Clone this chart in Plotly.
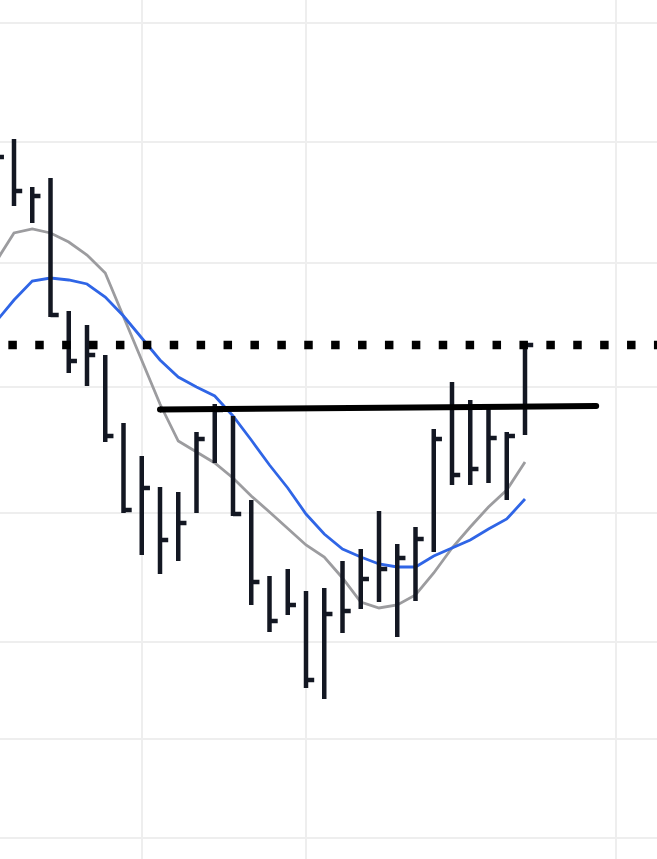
import plotly.graph_objects as go

# ---- data (bar index, OHLC-style values) ----
bar_index = list(range(-1, 29))
highs = [88.0, 86.1, 81.3, 82.2, 68.9, 67.5, 64.5, 57.7, 54.4, 51.3, 50.8, 56.8, 59.6, 58.4, 50.0,
         42.4, 43.1, 40.9, 41.2, 43.9, 45.1, 48.9, 45.6, 47.3, 57.1, 61.8, 60.0, 59.1, 56.8, 65.7]
lows = [83.0, 79.4, 77.7, 68.3, 62.7, 61.4, 55.8, 48.7, 44.5, 42.6, 43.9, 48.7, 53.7, 48.4, 39.5,
        36.8, 38.5, 31.2, 30.1, 36.7, 39.1, 39.8, 36.3, 39.9, 44.8, 51.5, 51.5, 51.7, 50.0, 56.5]
closes = [84.3, 80.9, 80.4, 68.5, 63.9, 64.5, 56.4, 49.0, 51.2, 46.0, 47.7, 56.1, 59.0, 48.6, 41.8,
          37.9, 39.5, 32.0, 38.6, 38.9, 42.1, 43.1, 44.2, 46.1, 56.1, 52.5, 53.1, 56.2, 56.4, 65.5]

ma_slow = [73.8, 76.7, 77.1, 76.7, 75.8, 74.5, 72.7, 68.3, 63.9, 59.6, 55.9, 54.8, 53.7, 52.2, 50.4,
           48.8, 47.1, 45.5, 44.3, 42.2, 39.8, 39.2, 39.5, 40.5, 42.7, 45.2, 47.3, 49.3, 51.0, 53.8]
ma_fast = [67.8, 70.0, 71.9, 72.2, 72.0, 71.6, 70.3, 68.4, 66.2, 64.0, 62.3, 61.3, 60.4, 58.4, 56.0,
           53.5, 51.2, 48.6, 46.6, 45.1, 44.3, 43.6, 43.3, 43.3, 44.4, 45.2, 46.0, 47.1, 48.1, 50.1]

resistance_level = 65.5
resistance_x = [-0.31, 36.0]
neckline_x = [8.0, 31.9]
neckline_y = [59.05, 59.4]

x_grid = [7, 16, 33]
y_grid = [97.7, 85.8, 73.7, 61.3, 48.7, 35.8, 26.1, 16.2]

x_range = [-0.767, 35.233]
y_range = [14.1, 100.0]

# ---- build bar geometry (vertical high-low line + close tick on the right) ----
TICK = 0.45
bx, by = [], []
for i, h, l, c in zip(bar_index, highs, lows, closes):
    bx += [i, i, None, i, i + TICK, None]
    by += [l, h, None, c, c, None]

fig = go.Figure()

fig.add_trace(go.Scatter(x=bar_index, y=ma_slow, mode="lines",
                         line=dict(color="#9c9c9f", width=2.8), hoverinfo="skip"))
fig.add_trace(go.Scatter(x=bar_index, y=ma_fast, mode="lines",
                         line=dict(color="#2f65e6", width=2.8), hoverinfo="skip"))
fig.add_trace(go.Scatter(x=bx, y=by, mode="lines",
                         line=dict(color="#131722", width=4.5), hoverinfo="skip"))
fig.add_trace(go.Scatter(x=resistance_x, y=[resistance_level, resistance_level], mode="lines",
                         line=dict(color="#000000", width=8.5, dash="8.5px,18.4px"),
                         hoverinfo="skip"))
fig.add_trace(go.Scatter(x=neckline_x, y=neckline_y, mode="lines+markers",
                         line=dict(color="#000000", width=6),
                         marker=dict(color="#000000", size=6), hoverinfo="skip"))

fig.update_layout(
    width=657, height=859,
    margin=dict(l=0, r=0, t=0, b=0),
    paper_bgcolor="white", plot_bgcolor="white",
    showlegend=False,
)
fig.update_xaxes(range=x_range, tickvals=x_grid, showticklabels=False, showgrid=True,
                 gridcolor="#eeeeee", gridwidth=2, zeroline=False, showline=False, ticks="")
fig.update_yaxes(range=y_range, tickvals=y_grid, showticklabels=False, showgrid=True,
                 gridcolor="#eeeeee", gridwidth=2, zeroline=False, showline=False, ticks="")

fig.write_html(
    "out.html",
    config={"displayModeBar": False},
    post_script="document.body.style.margin='0';document.body.style.overflow='hidden';",
)
